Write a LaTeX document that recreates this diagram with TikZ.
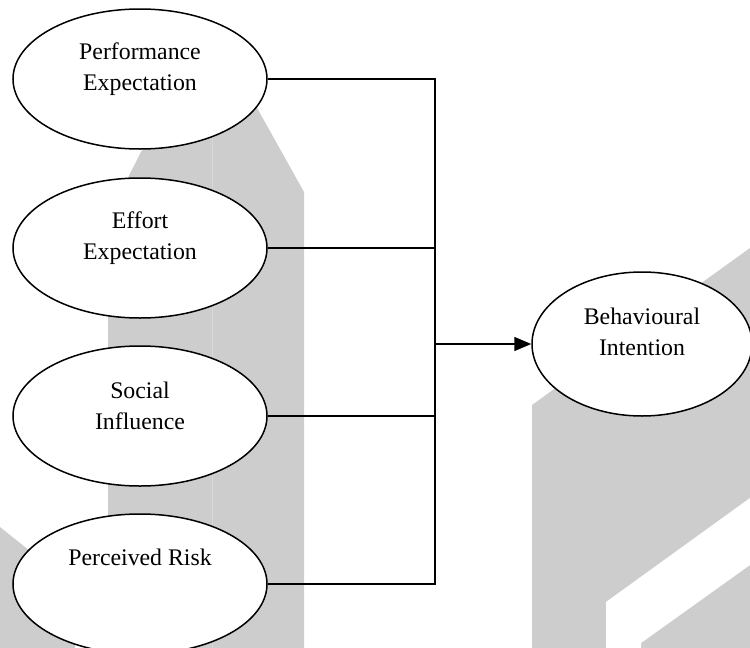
\documentclass[tikz,border=0pt]{standalone}
\usepackage{fontspec}
\setmainfont{Liberation Serif}
\usetikzlibrary{shapes.geometric,arrows.meta}
\definecolor{wmgray}{HTML}{CDCDCD}
\definecolor{wmseam}{HTML}{D8D8D8}
\begin{document}
\begin{tikzpicture}[x=1pt,y=-1pt,
  construct/.style={ellipse, draw=black, line width=1.5pt, fill=white,
    minimum width=254pt, minimum height=140pt, inner sep=0pt},
  outcome/.style={construct, minimum width=220pt, minimum height=144pt},
  caption/.style={align=center, font=\fontsize{23.8}{31}\selectfont, inner sep=0pt},
  link/.style={line width=1.5pt, line join=miter},
]
\useasboundingbox (0,0) rectangle (750,648);
\clip (0,0) rectangle (750,648);

% background shapes
\fill[wmgray] (208,20) -- (304,192) -- (304,648) -- (108,648) -- (108,217) -- cycle;
\draw[wmseam, line width=0.8pt] (212,30) -- (212,648);
\fill[wmgray] (0,527) -- (75,587) -- (75,648) -- (0,648) -- cycle;
\fill[wmgray] (532,405) -- (750,248) -- (750,648) -- (532,648) -- cycle;
\fill[white] (606,602) -- (750,498) -- (750,565) -- (641,643) -- (641,648) -- (606,648) -- cycle;

% constructs
\node[construct] (pe) at (140,79) {};
\node[construct] (ee) at (140,248) {};
\node[construct] (si) at (140,416) {};
\node[construct] (pr) at (140,584) {};
\node[outcome]   (bi) at (642,344) {};

\node[caption] (pet) at ([yshift=10pt]pe.center) {Performance\\Expectation};
\node[caption] (eet) at ([yshift=10pt]ee.center) {Effort\\Expectation};
\node[caption] (sit) at ([yshift=10pt]si.center) {Social\\Influence};
\node[caption] (prt) at ([yshift=27pt]pr.center) {Perceived Risk};
\node[caption] (bit) at ([yshift=12pt]bi.center) {Behavioural\\Intention};

% connectors
\coordinate (bus) at (435,0);
\draw[link] (pe.east) -- (pe.east -| bus) -- (pr.east -| bus) -- (pr.east);
\draw[link] (ee.east) -- (ee.east -| bus);
\draw[link] (si.east) -- (si.east -| bus);
\draw[link, -{Triangle[length=17pt,width=14pt]}] (bi.west -| bus) -- (bi.west);
\end{tikzpicture}
\end{document}
